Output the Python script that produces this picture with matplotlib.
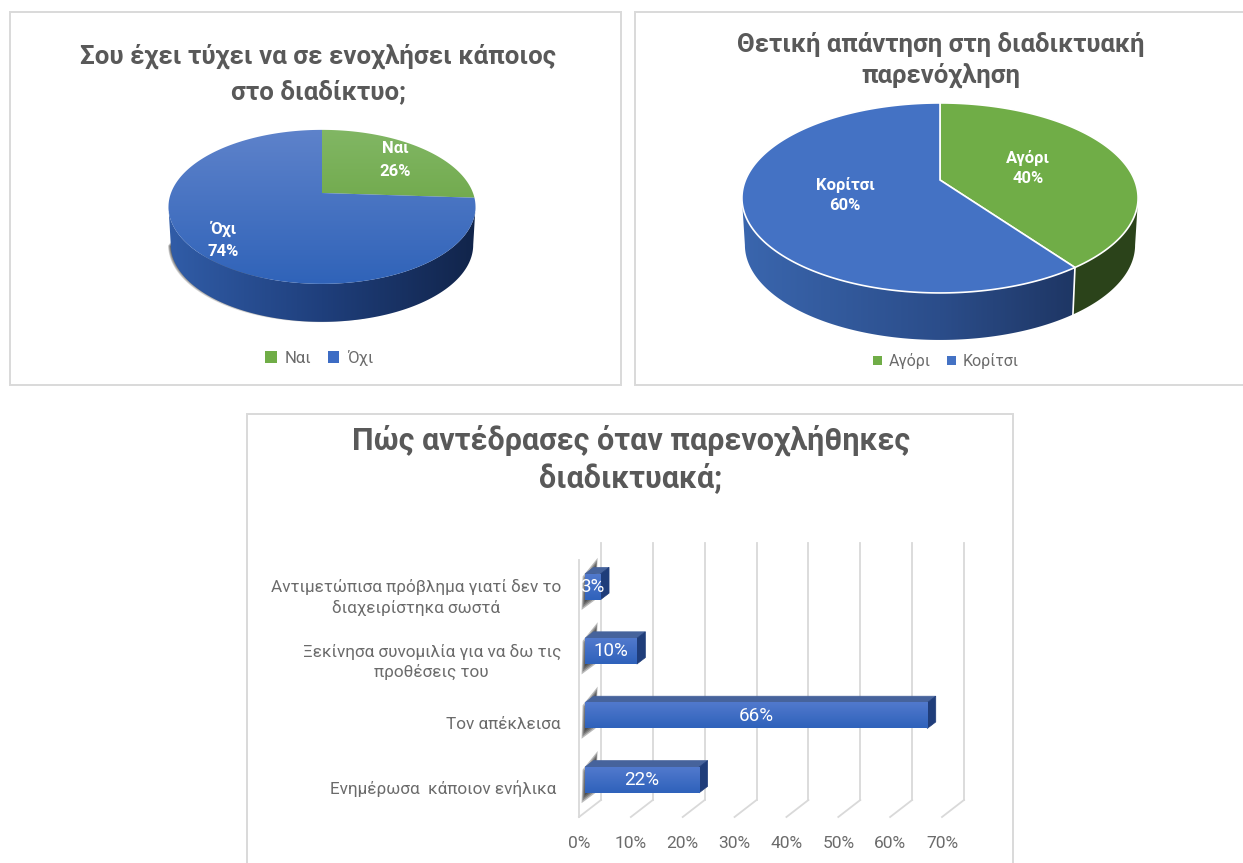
import numpy as np
import matplotlib
matplotlib.use('Agg')
import matplotlib.pyplot as plt
from matplotlib.patches import Rectangle, Patch, Polygon
from matplotlib.colors import LinearSegmentedColormap
from matplotlib.transforms import ScaledTranslation

plt.rcParams['font.family'] = ['Roboto', 'DejaVu Sans']

W, H = 1243, 863

# data
pie1_title = 'Σου έχει τύχει να σε ενοχλήσει κάποιος\nστο διαδίκτυο;'
pie1_labels = ['Ναι', 'Όχι']
pie1_values = [26, 74]

pie2_title = 'Θετική απάντηση στη διαδικτυακή\nπαρενόχληση'
pie2_labels = ['Αγόρι', 'Κορίτσι']
pie2_values = [40, 60]

bar_title = 'Πώς αντέδρασες όταν παρενοχλήθηκες\nδιαδικτυακά;'
bar_labels = ['Ενημέρωσα  κάποιον ενήλικα ', 'Τον απέκλεισα',
              'Ξεκίνησα συνομιλία για να δω τις\nπροθέσεις του',
              'Αντιμετώπισα πρόβλημα γιατί δεν το\nδιαχειρίστηκα σωστά']
bar_values = [22, 66, 10, 3]
bar_ticks = [0, 10, 20, 30, 40, 50, 60, 70]

GREEN = '#70ad47'
BLUE = '#4472c4'
TITLE_COL = '#595959'
TEXT_COL = '#6b6b6b'
LINE_COL = '#d9d9d9'

fig = plt.figure(figsize=(W / 100, H / 100), dpi=100)
bg = fig.add_axes([0, 0, 1, 1])
bg.axis('off')

for x0, y0, x1, y1 in [(10, 12, 621, 385), (635, 12, 1260, 385), (247, 414, 1013, 880)]:
    bg.add_patch(Rectangle((x0, y0), x1 - x0, y1 - y0, fc='white', ec=LINE_COL, lw=1.4))


# circle -> tilted ellipse, t runs clockwise from 12 o'clock
def project(t, cx, cy, rx, ry, k):
    x, y = np.sin(t), np.cos(t)
    w = 1 + k * y
    return cx + rx * x / w, cy - ry * y / w


def clipped_gradient(px, py, colors, extent, horizontal=False, zorder=3):
    poly = Polygon(np.c_[px, py], fc='none', ec='none')
    bg.add_patch(poly)
    cmap = LinearSegmentedColormap.from_list('g', colors)
    arr = np.linspace(0, 1, 200)
    arr = arr.reshape(1, -1) if horizontal else arr.reshape(-1, 1)
    im = bg.imshow(arr, cmap=cmap, aspect='auto', zorder=zorder, extent=extent, origin='upper')
    im.set_clip_path(poly)


def pie3d(values, colors, cx, cy, rx, ry, k, depth, wall_cols, dark_first=None,
          edge=None, gradients=None, shadow=False):
    fr = np.cumsum([0] + list(values)) / sum(values) * 2 * np.pi
    s = 0.985
    box = [cx - rx * 1.03, cx + rx * 1.03, cy + ry * 2, cy - ry]
    # the wall is seen between the two points where the outline is vertical
    t_right = np.arccos(-k)
    t_left = 2 * np.pi - t_right

    if shadow:
        t = np.linspace(np.radians(165), t_left, 120)
        xb, yb = project(t, cx, cy, rx, ry, k)
        for i in range(1, 7):
            bg.fill(cx + (xb - cx) * s - i * 0.45, yb + depth + i * 0.55 - 3, fc='black', alpha=0.15, lw=0, zorder=2)

    t0 = fr[1] if dark_first else t_right
    t = np.linspace(t0, t_left, 200)
    xs, ys = project(t, cx, cy, rx, ry, k)
    px = np.r_[xs, (cx + (xs - cx) * s)[::-1]]
    py = np.r_[ys, (ys + depth)[::-1]]
    clipped_gradient(px, py, wall_cols, box, horizontal=True)

    if dark_first:
        t = np.linspace(t_right, fr[1], 60)
        xs, ys = project(t, cx, cy, rx, ry, k)
        bg.fill(np.r_[xs, (cx + (xs - cx) * s)[::-1]], np.r_[ys, (ys + depth)[::-1]], fc=dark_first, lw=0, zorder=3)

    if edge:
        xe, ye = project(fr[1], cx, cy, rx, ry, k)
        bg.plot([xe, cx + (xe - cx) * s], [ye, ye + depth], color=edge, lw=1.2, zorder=4)

    for i, col in enumerate(colors):
        tt = np.linspace(fr[i], fr[i + 1], 200)
        px, py = project(tt, cx, cy, rx, ry, k)
        px = np.r_[cx, px]
        py = np.r_[cy, py]
        if gradients:
            clipped_gradient(px, py, gradients[i], [cx - rx * 1.1, cx + rx * 1.1, cy + ry * 1.3, cy - ry * 0.9], zorder=5)
        else:
            bg.fill(px, py, fc=col, ec=edge or col, lw=1.2, zorder=5)


# left pie
pie3d(pie1_values, [GREEN, BLUE], 322, 193, 151, 74.5, 0.18, 38,
      ['#315da8', '#1f3f7c', '#11244a'], shadow=True,
      gradients=[['#82b765', '#5f9c33'], ['#5f83cb', '#2e62b8']])
for txt, x, y in [(f'{pie1_labels[0]}\n{pie1_values[0]}%', 395, 160), (f'{pie1_labels[1]}\n{pie1_values[1]}%', 223, 240)]:
    bg.text(x, y, txt, color='white', fontsize=12, fontweight='bold', ha='center', va='center',
            linespacing=1.6, zorder=8)

# right pie
pie3d(pie2_values, [GREEN, BLUE], 940, 180, 194.5, 91.6, 0.189, 47,
      ['#3a66ae', '#2b4d8a', '#182b52'], dark_first='#2b431a', edge='white')
for txt, x, y in [(f'{pie2_labels[0]}\n{pie2_values[0]}%', 1028, 168), (f'{pie2_labels[1]}\n{pie2_values[1]}%', 845, 195)]:
    bg.text(x, y, txt, color='white', fontsize=12, fontweight='bold', ha='center', va='center',
            linespacing=1.45, zorder=8)

# titles
bg.text(318, 74, pie1_title, color=TITLE_COL, fontsize=18.6, fontweight='bold', ha='center', va='center', linespacing=1.5)
bg.text(941, 60, pie2_title, color=TITLE_COL, fontsize=18.5, fontweight='bold', ha='center', va='center', linespacing=1.32)
bg.text(631, 459, bar_title, color=TITLE_COL, fontsize=22, fontweight='bold', ha='center', va='center', linespacing=1.24)

bg.set_xlim(0, W)
bg.set_ylim(H, 0)

# legends
for labels, x, y, cols, fs, hs, sp in [(pie1_labels, 319, 358, [GREEN, '#3d6cc4'], 12, 0.7, 1.0),
                                       (pie2_labels, 946, 361, [GREEN, BLUE], 11.5, 0.55, 1.0)]:
    fig.legend(handles=[Patch(fc=c, label=l) for c, l in zip(cols, labels)], ncol=2, frameon=False,
               loc='center', bbox_to_anchor=(x / W, 1 - y / H), fontsize=fs, handlelength=hs, handleheight=hs,
               handletextpad=0.45, columnspacing=sp, labelcolor=TEXT_COL)

# bar chart, front of the floor runs 579..942 px for 0..70 %
left, right, bottom, top = 579, 942, 817, 543
ax = fig.add_axes([left / W, 1 - bottom / H, (right - left) / W, (bottom - top) / H])
ax.patch.set_alpha(0)
for s in ax.spines.values():
    s.set_visible(False)

ypos = np.arange(len(bar_values))
y_floor, y_top = -0.575, 3.68

gap = 6 / 5.19      # bars start a bit in front of the 0 line
dx, dy = 8.5 / 5.19, 6.5 / 64.4     # depth of the bars
bx, by = 22 / 5.19, 17 / 64.4       # depth of the walls

for tick in bar_ticks:
    ax.plot([tick, tick + bx], [y_floor, y_floor + by], color=LINE_COL, lw=1.3, clip_on=False, zorder=1)
    ax.plot([tick + bx, tick + bx], [y_floor + by, y_top], color=LINE_COL, lw=1.3, clip_on=False, zorder=1)
ax.plot([0, 0], [y_floor, y_top - by], color=LINE_COL, lw=1.3, clip_on=False, zorder=1)

bars = ax.barh(ypos, bar_values, height=0.4, left=gap, color='none', zorder=4)
grad = LinearSegmentedColormap.from_list('bar', ['#2f62bb', '#5179cd'])
for bar, val, y in zip(bars, bar_values, ypos):
    x0, y0, w, h = bar.get_x(), bar.get_y(), bar.get_width(), bar.get_height()
    # soft shadow on the wall
    for i in range(6):
        m = i * 0.04
        ax.fill([0.5 + m * 5, 3.2 - m * 3, 3.6 - m * 3, 0.7 + m * 5],
                [y - 0.36 + m, y - 0.2 + m * 0.5, y + 0.45 - m, y + 0.16 - m * 0.5],
                fc='#1a1a1a', alpha=0.3, lw=0, zorder=2, clip_on=False)
    ax.fill([x0, x0 + dx, x0 + w + dx, x0 + w], [y0 + h, y0 + h + dy, y0 + h + dy, y0 + h],
            fc='#46639c', ec='#46639c', lw=0.5, zorder=3, clip_on=False)
    ax.fill([x0 + w, x0 + w + dx, x0 + w + dx, x0 + w], [y0, y0 + dy, y0 + h + dy, y0 + h],
            fc='#1f3d7a', ec='#1f3d7a', lw=0.5, zorder=3, clip_on=False)
    ax.imshow(np.linspace(0, 1, 50).reshape(-1, 1), cmap=grad, aspect='auto', origin='lower',
              extent=[x0, x0 + w, y0, y0 + h], zorder=4, clip_on=False)
    ax.text(x0 + w / 2, y, f'{val}%', color='white', fontsize=13.5, ha='center', va='center', zorder=6, clip_on=False)

ax.set_xlim(0, 70)
ax.set_ylim(y_floor, y_top)

ax.set_xticks(bar_ticks)
ax.set_xticklabels([f'{t}%' for t in bar_ticks])
ax.set_yticks(ypos)
ax.set_yticklabels(bar_labels, multialignment='center', linespacing=1.35)
ax.tick_params(axis='x', length=0, labelsize=12.5, labelcolor=TEXT_COL, pad=14)
ax.tick_params(axis='y', length=0, labelsize=12.3, labelcolor=TEXT_COL, pad=13)
off = ScaledTranslation(0, -5 / 72, fig.dpi_scale_trans)
for lab in ax.get_yticklabels():
    lab.set_transform(lab.get_transform() + off)

fig.savefig('out.png', dpi=100)
